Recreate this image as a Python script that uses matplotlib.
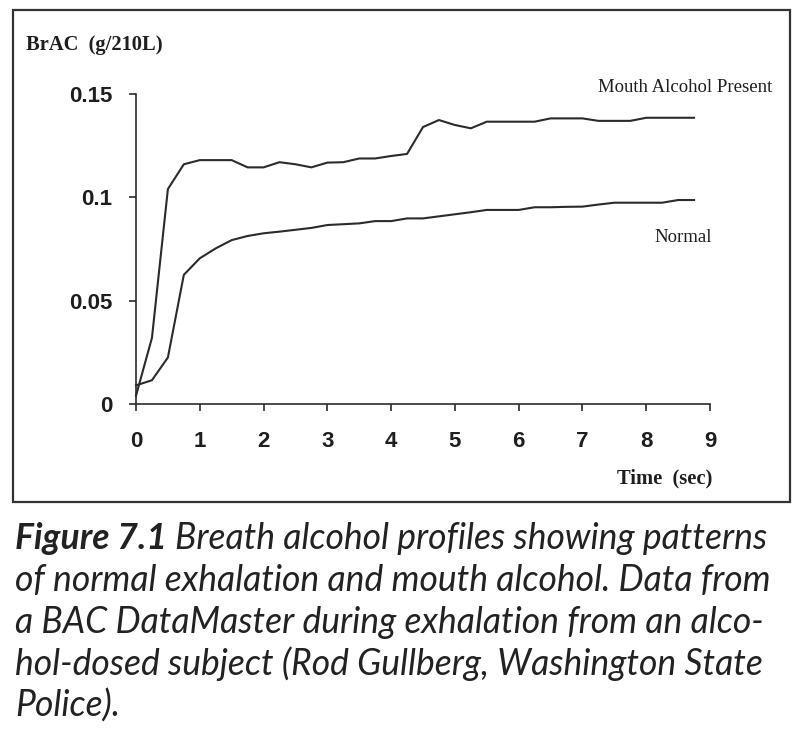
import matplotlib
matplotlib.use("Agg")
import matplotlib.pyplot as plt
from matplotlib.patches import Rectangle

time_sec = [0, 0.25, 0.5, 0.75, 1.0, 1.25, 1.5, 1.75, 2.0, 2.25, 2.5, 2.75,
            3.0, 3.25, 3.5, 3.75, 4.0, 4.25, 4.5, 4.75, 5.0, 5.25, 5.5, 5.75,
            6.0, 6.25, 6.5, 6.75, 7.0, 7.25, 7.5, 7.75, 8.0, 8.25, 8.5, 8.75]
mouth_alcohol = [0.004, 0.032, 0.104, 0.116, 0.118, 0.118, 0.118, 0.1145, 0.1145, 0.117, 0.116, 0.1145,
                 0.1168, 0.117, 0.1188, 0.1188, 0.120, 0.121, 0.134, 0.1374, 0.135, 0.1334, 0.1366, 0.1366,
                 0.1366, 0.1366, 0.1382, 0.1382, 0.1382, 0.137, 0.137, 0.137, 0.1385, 0.1385, 0.1385, 0.1385]
normal = [0.009, 0.0115, 0.0225, 0.0625, 0.0705, 0.0753, 0.0793, 0.0813, 0.0826, 0.0834, 0.0843, 0.0852,
          0.0866, 0.0870, 0.0874, 0.0885, 0.0885, 0.0898, 0.0898, 0.0908, 0.0918, 0.0928, 0.0939, 0.0939,
          0.0939, 0.0952, 0.0952, 0.0954, 0.0955, 0.0965, 0.0974, 0.0974, 0.0974, 0.0974, 0.0987, 0.0987]

x_ticks = [0, 1, 2, 3, 4, 5, 6, 7, 8, 9]
y_ticks = [0, 0.05, 0.1, 0.15]
y_tick_labels = ["0", "0.05", "0.1", "0.15"]

caption_lines = [
    "of normal exhalation and mouth alcohol. Data from",
    "a BAC DataMaster during exhalation from an alco-",
    "hol-dosed subject (Rod Gullberg, Washington State",
    "Police).",
]

W, H = 805, 741
ink = "#2b2b2b"

fig = plt.figure(figsize=(W / 100, H / 100), dpi=100)
ax = fig.add_axes([136 / W, 1 - 404 / H, 574 / W, 310 / H])

ax.plot(time_sec, mouth_alcohol, color=ink, lw=1.5, clip_on=False)
ax.plot(time_sec, normal, color=ink, lw=1.5, clip_on=False)

ax.set_xlim(0, 9)
ax.set_ylim(0, 0.15)
ax.set_xticks(x_ticks)
ax.set_yticks(y_ticks)
ax.set_yticklabels(y_tick_labels)
for s in ["top", "right"]:
    ax.spines[s].set_visible(False)
for s in ["left", "bottom"]:
    ax.spines[s].set_color(ink)
    ax.spines[s].set_linewidth(1.2)
ax.tick_params(axis="both", direction="out", length=5, width=1.2, color=ink,
               labelcolor="#1e1e1e")
ax.tick_params(axis="x", pad=14.5)
ax.tick_params(axis="y", pad=12)
for lab in ax.get_xticklabels() + ax.get_yticklabels():
    lab.set_fontfamily("Liberation Sans")
    lab.set_fontweight("bold")
    lab.set_fontsize(16)

# Labels inside the chart frame
serif = "Liberation Serif"
fig.text(26 / W, 1 - 45 / H, "BrAC  (g/210L)", family=serif, weight="bold",
         fontsize=14.8, color="#1e1e1e", va="center", ha="left")
fig.text(712 / W, 1 - 478 / H, "Time  (sec)", family=serif, weight="bold",
         fontsize=14.8, color="#1e1e1e", va="center", ha="right")
fig.text(772 / W, 1 - 88 / H, "Mouth Alcohol Present", family=serif,
         fontsize=13.5, color="#1e1e1e", va="center", ha="right")
fig.text(712 / W, 1 - 238 / H, "Normal", family=serif,
         fontsize=13.5, color="#1e1e1e", va="center", ha="right")

# Chart frame
fig.add_artist(Rectangle((13 / W, 1 - 502 / H), 777 / W, 492 / H,
                         transform=fig.transFigure, fill=False,
                         edgecolor="#333333", lw=1.6))

# Caption
cap_font = "Lato"
cap_size = 25.6
baselines = [549, 591, 633, 675, 717]
head = fig.text(15 / W, 1 - baselines[0] / H, "Figure 7.1", family=cap_font,
                style="italic", weight="bold", fontsize=cap_size,
                color="#222222", va="baseline", ha="left")
fig.canvas.draw()
bb = head.get_window_extent()
fig.text((bb.x1 + 8) / W, 1 - baselines[0] / H,
         "Breath alcohol profiles showing patterns", family=cap_font,
         style="italic", fontsize=cap_size, color="#222222",
         va="baseline", ha="left")
for line, yb in zip(caption_lines, baselines[1:]):
    fig.text(15 / W, 1 - yb / H, line, family=cap_font, style="italic",
             fontsize=cap_size, color="#222222", va="baseline", ha="left")

plt.savefig("out.png", dpi=100)
